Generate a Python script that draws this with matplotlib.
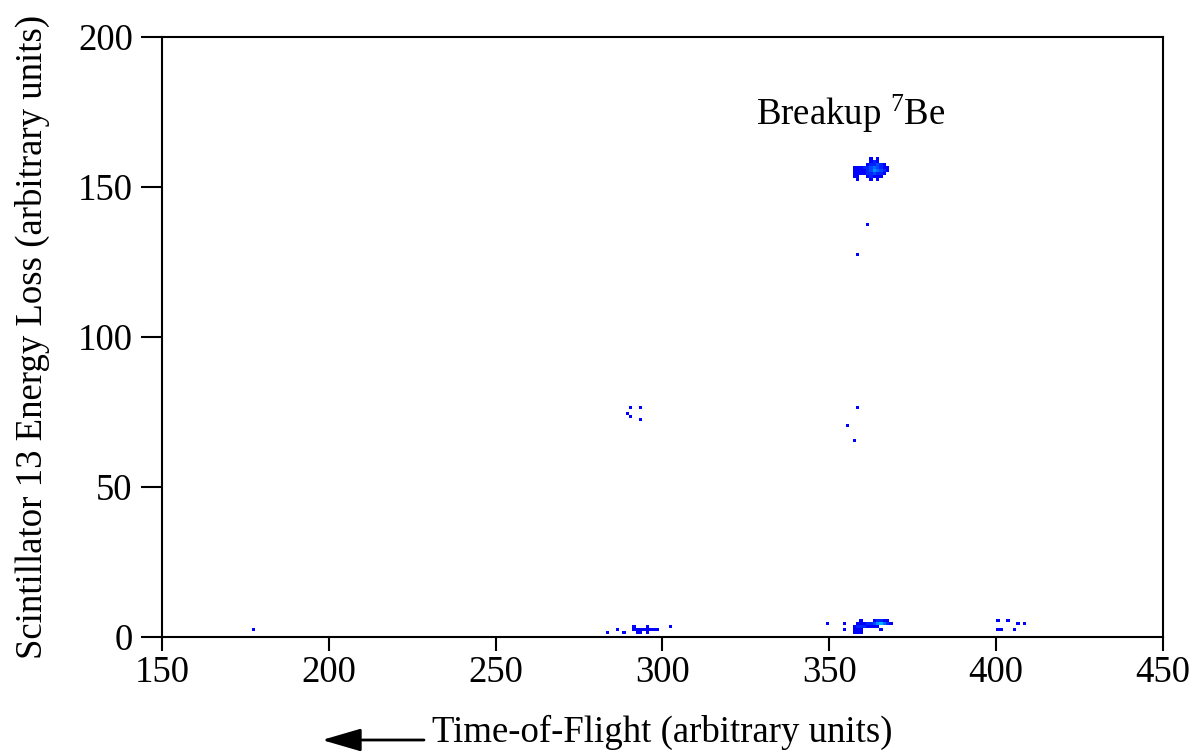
import numpy as np
import matplotlib
matplotlib.use("Agg")
import matplotlib.pyplot as plt
from matplotlib.colors import LinearSegmentedColormap

plt.rcParams["font.family"] = ["Liberation Serif", "DejaVu Serif"]
plt.rcParams["mathtext.fontset"] = "custom"
plt.rcParams["mathtext.rm"] = "Liberation Serif"
plt.rcParams["mathtext.it"] = "Liberation Serif:italic"

# --- histogram cells: time-of-flight bin, energy-loss bin, counts ---
# breakup 7Be group near (363, 155)
be7_tof = [362, 364,
           362, 363, 364,
           361, 362, 363, 364, 365, 366,
           357, 358, 359, 360, 361, 362, 363, 364, 365, 366, 367,
           357, 358, 359, 360, 361, 362, 363, 364, 365, 366, 367,
           357, 358, 359, 360, 361, 362, 363, 364, 365, 366,
           357, 358, 361, 362, 363, 364, 365,
           358, 362, 364]
be7_eloss = [159] * 2 + [158] * 3 + [157] * 6 + [156] * 11 + [155] * 11 + \
            [154] * 10 + [153] * 7 + [152] * 3
be7_counts = [1, 1,
              1, 2, 1,
              1, 2, 2, 3, 2, 1,
              1, 1, 1, 2, 2, 3, 4, 3, 2, 1, 1,
              1, 1, 1, 1, 2, 3, 5, 4, 3, 2, 1,
              1, 1, 1, 1, 2, 2, 3, 2, 2, 1,
              1, 1, 1, 2, 1, 1, 1,
              1, 1, 1]

# scattered single events
single_tof = [361, 358, 358, 355, 357, 290, 293, 289, 290, 293, 177]
single_eloss = [137, 127, 76, 70, 65, 76, 76, 74, 73, 72, 2]
single_counts = [1] * 11

# low energy-loss group near 293
low1_tof = [283, 286, 288, 291, 291, 292, 293, 294, 295, 296, 297, 298,
            292, 293, 295, 295, 302]
low1_eloss = [1, 2, 1, 3, 2, 2, 2, 2, 2, 2, 2, 2, 1, 1, 1, 3, 3]
low1_counts = [1] * 17

# low energy-loss group near 362
low2_tof = [359, 363, 364, 365, 366, 367,
            349, 354, 358, 359, 360, 361, 362, 363, 364, 365, 366, 367, 368,
            357, 358, 359, 360, 361, 362, 363, 364,
            354, 357, 358, 359, 365,
            357, 358, 359]
low2_eloss = [5] * 6 + [4] * 13 + [3] * 8 + [2] * 5 + [1] * 3
low2_counts = [1, 1, 2, 2, 1, 1,
               1, 1, 1, 1, 1, 2, 2, 3, 5, 6, 4, 2, 1,
               1, 2, 2, 2, 1, 1, 1, 1,
               1, 1, 1, 1, 1,
               1, 1, 1]

# low energy-loss group near 404
low3_tof = [400, 403, 406, 408, 400, 401, 405]
low3_eloss = [5, 5, 4, 4, 2, 2, 2]
low3_counts = [1] * 7

x_ticks = [150, 200, 250, 300, 350, 400, 450]
y_ticks = [0, 50, 100, 150, 200]

tof = np.concatenate([be7_tof, single_tof, low1_tof, low2_tof, low3_tof]) + 0.5
eloss = np.concatenate([be7_eloss, single_eloss, low1_eloss, low2_eloss, low3_eloss]) + 0.5
counts = np.concatenate([be7_counts, single_counts, low1_counts, low2_counts, low3_counts])

xedges = np.arange(150, 451)
yedges = np.arange(0, 201)
H, _, _ = np.histogram2d(tof, eloss, bins=[xedges, yedges], weights=counts)
H = np.ma.masked_equal(H.T, 0)

cmap = LinearSegmentedColormap.from_list("blues", ["#0000ff", "#00b4ff"])

fig = plt.figure(figsize=(11.97, 7.52), dpi=100)
ax = fig.add_axes([0.1353, 0.1529, 0.8363, 0.7979])
ax.pcolormesh(xedges, yedges, H, cmap=cmap, vmin=1, vmax=6)

ax.set_xlim(150, 450)
ax.set_ylim(0, 200)
ax.set_xticks(x_ticks)
ax.set_yticks(y_ticks)
ax.tick_params(direction="out", width=1.5, labelsize=26.5)
ax.tick_params(axis="y", length=15, pad=6)
ax.tick_params(axis="x", length=10, pad=3)
for s in ax.spines.values():
    s.set_linewidth(1.5)

ax.set_xlabel("Time-of-Flight (arbitrary units)", fontsize=26.5, labelpad=18)
ax.set_ylabel("Scintillator 13 Energy Loss (arbitrary units)", fontsize=26.5, labelpad=20)

ax.text(356.5, 170.7, "Breakup $^7$Be", fontsize=26.5, ha="center", va="baseline")

ax.annotate("", xy=(322 / 1197, 1 - 740 / 752), xytext=(424 / 1197, 1 - 740 / 752),
            xycoords="figure fraction", textcoords="figure fraction",
            arrowprops=dict(arrowstyle="-|>,head_length=1.2,head_width=0.35",
                            color="black", lw=2, mutation_scale=20,
                            shrinkA=0, shrinkB=0))

fig.savefig("out.png", dpi=100)
